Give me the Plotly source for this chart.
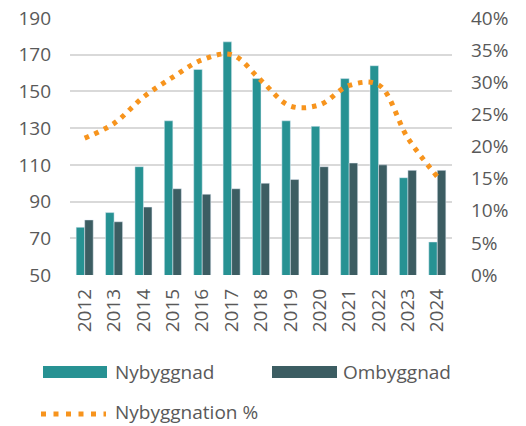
import plotly.graph_objects as go

years = ["2012", "2013", "2014", "2015", "2016", "2017", "2018", "2019", "2020", "2021", "2022", "2023", "2024"]
nybyggnad = [76, 84, 109, 134, 162, 177, 157, 134, 131, 157, 164, 103, 68]
ombyggnad = [80, 79, 87, 97, 94, 97, 100, 102, 109, 111, 110, 107, 107]
nybyggnation_pct = [0.213, 0.236, 0.277, 0.308, 0.335, 0.343, 0.303, 0.263, 0.265, 0.295, 0.296, 0.213, 0.153]

TEAL = "#279293"
SLATE = "#3C5D62"
ORANGE = "#F7941D"
GRID = "#D9D9D9"
TXT = "#595959"
FONT = "Open Sans, DejaVu Sans, sans-serif"
FS = 19

# page has an 8px body margin; figure coordinates = page coordinates - 8
OFF = 8
W, H = 526 - OFF, 426 - OFF
L, R, T, B = 70 - OFF, 452 - OFF, 18 - OFF, 275 - OFF

fig = go.Figure()
fig.add_trace(go.Bar(x=years, y=nybyggnad, name="Nybyggnad", marker=dict(color=TEAL), showlegend=False))
fig.add_trace(go.Bar(x=years, y=ombyggnad, name="Ombyggnad", marker=dict(color=SLATE), showlegend=False))
fig.add_trace(go.Scatter(x=years, y=nybyggnation_pct, name="Nybyggnation %", yaxis="y2", mode="lines",
                         line=dict(color=ORANGE, width=5, dash="4.5px,6px", shape="spline", smoothing=1),
                         showlegend=False))

fig.update_layout(
    width=W, height=H,
    margin=dict(l=L, r=W - R, t=T, b=H - B, pad=0),
    paper_bgcolor="white", plot_bgcolor="white",
    barmode="group", bargap=0.42, bargroupgap=0,
    font=dict(family=FONT, size=FS, color=TXT),
    xaxis=dict(type="category", tickangle=-90, showgrid=False, showline=False, ticks="",
               automargin=False, ticklabelstandoff=9, ticklabeloverflow="allow",
               tickfont=dict(size=FS, color=TXT)),
    yaxis=dict(range=[50, 190], dtick=20, tick0=50, showgrid=True, gridcolor=GRID, gridwidth=1.5,
               zeroline=False, showline=False, ticks="", automargin=False,
               ticklabelstandoff=18, ticklabeloverflow="allow",
               tickfont=dict(size=FS, color=TXT)),
    yaxis2=dict(range=[0, 0.40], dtick=0.05, tickformat=".0%", overlaying="y", side="right",
                showgrid=False, zeroline=False, showline=False, ticks="", automargin=False,
                ticklabelstandoff=18, ticklabeloverflow="allow",
                tickfont=dict(size=FS, color=TXT)),
)

def px_x(p):
    return (p - 70) / (452.0 - 70)

def px_y(p):
    return (275 - p) / (275.0 - 18)

shapes = [
    dict(type="rect", xref="paper", yref="paper", x0=px_x(43), x1=px_x(107), y0=px_y(378), y1=px_y(366),
         fillcolor=TEAL, line=dict(width=0)),
    dict(type="rect", xref="paper", yref="paper", x0=px_x(272), x1=px_x(337), y0=px_y(378), y1=px_y(366),
         fillcolor=SLATE, line=dict(width=0)),
    dict(type="line", xref="paper", yref="paper", x0=px_x(41), x1=px_x(106), y0=px_y(414), y1=px_y(414),
         line=dict(color=ORANGE, width=5, dash="5px,7.5px")),
]
fig.update_layout(shapes=shapes)

anns = [
    dict(text="Nybyggnad", x=px_x(113), y=px_y(372)),
    dict(text="Ombyggnad", x=px_x(341), y=px_y(372)),
    dict(text="Nybyggnation %", x=px_x(113), y=px_y(412)),
]
for a in anns:
    fig.add_annotation(xref="paper", yref="paper", xanchor="left", yanchor="middle", showarrow=False,
                       font=dict(family=FONT, size=FS, color=TXT), **a)

fig.write_html("out.html")
